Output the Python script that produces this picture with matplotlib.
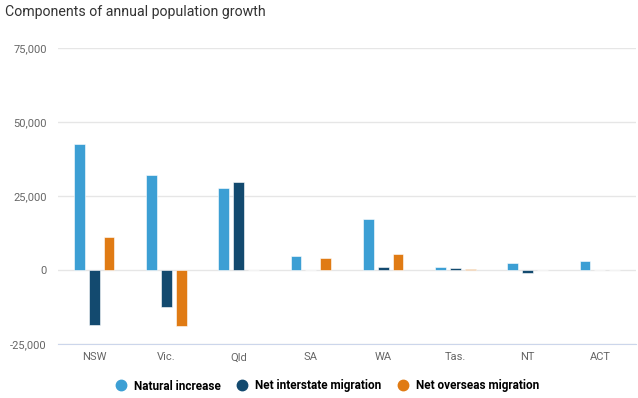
import numpy as np
import matplotlib.pyplot as plt
from matplotlib.lines import Line2D

plt.rcParams['font.family'] = ['Roboto', 'DejaVu Sans']

states = ['NSW', 'Vic.', 'Qld', 'SA', 'WA', 'Tas.', 'NT', 'ACT']
natural = [42700, 32200, 27800, 4600, 17100, 1000, 2300, 2900]
interstate = [-18700, -12600, 29600, -100, 1000, 800, -1000, -100]
overseas = [11200, -18800, 0, 4100, 5400, 500, 0, 100]

series_names = ['Natural increase', 'Net interstate migration', 'Net overseas migration']
colors = ['#3c9fd4', '#134a6f', '#e07b14']

fig = plt.figure(figsize=(6.38, 3.98), dpi=100)
ax = fig.add_axes([58/638, (398-344)/398, (636-58)/638, (344-48)/398])

x = np.arange(len(states))
w = 0.15
off = 0.205
for i, vals in enumerate([natural, interstate, overseas]):
    ax.bar(x + (i - 1)*off, vals, width=w, color=colors[i], zorder=3,
           edgecolor='white', linewidth=0.4)

ax.set_xlim(-0.5, len(states) - 0.5)
ax.set_ylim(-25000, 75000)
ax.set_yticks([-25000, 0, 25000, 50000, 75000])
ax.set_yticklabels(['-25,000', '0', '25,000', '50,000', '75,000'])
ax.set_xticks(x)
ax.set_xticklabels(states)
ax.grid(axis='y', color='#e6e6e6', linewidth=1, zorder=0)
for s in ['top', 'right', 'left']:
    ax.spines[s].set_visible(False)
ax.spines['bottom'].set_color('#ccd6eb')
ax.tick_params(axis='both', length=0, labelsize=8, colors='#666666')
ax.tick_params(axis='y', pad=8)
ax.tick_params(axis='x', pad=6)

fig.text(5/638, 1 - 12/398, 'Components of annual population growth',
         fontsize=10.2, color='#333333', va='center', ha='left')

handles = [Line2D([], [], marker='o', linestyle='', markersize=7.5,
                  markerfacecolor=c, markeredgecolor=c) for c in colors]
fig.legend(handles, series_names, loc='center', bbox_to_anchor=(324/638, 1 - 386/398),
           ncol=3, frameon=False, handletextpad=0.1, columnspacing=0.8,
           prop={'size': 8.5, 'weight': 'bold'})

fig.savefig('out.png', dpi=100)
